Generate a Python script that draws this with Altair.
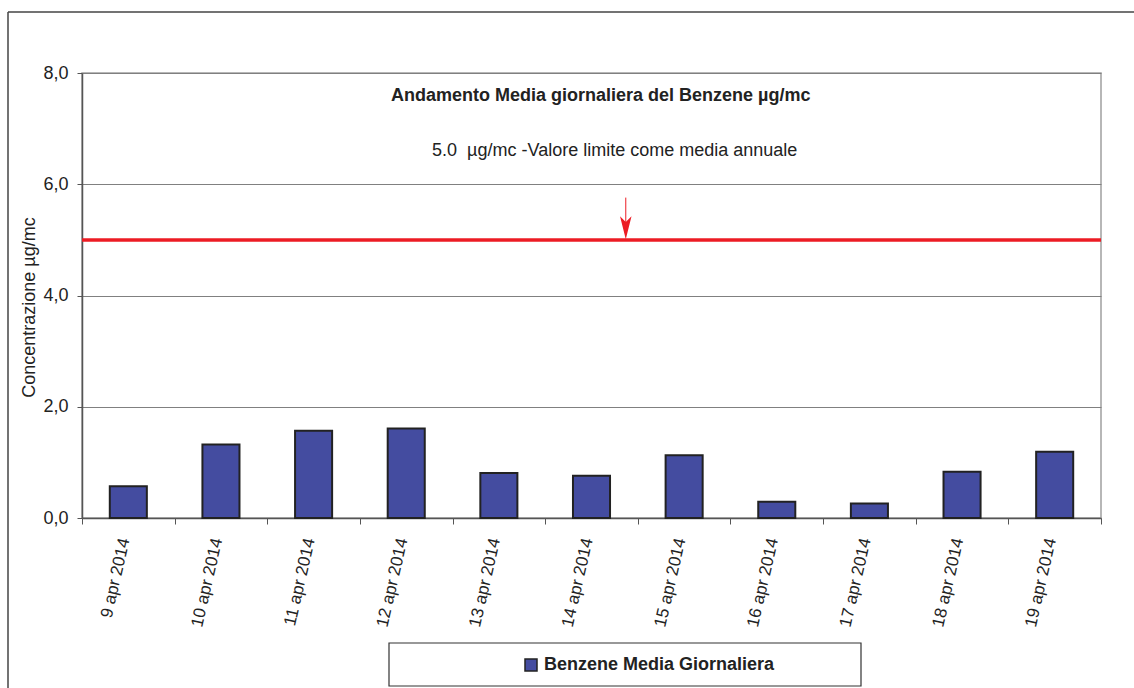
import json

import altair as alt
import pandas as pd

# Daily benzene averages (µg/mc)
days = [
    "9 apr 2014", "10 apr 2014", "11 apr 2014", "12 apr 2014", "13 apr 2014",
    "14 apr 2014", "15 apr 2014", "16 apr 2014", "17 apr 2014", "18 apr 2014",
    "19 apr 2014",
]
benzene = [0.57, 1.32, 1.57, 1.61, 0.81, 0.76, 1.13, 0.29, 0.26, 0.83, 1.19]
series_name = "Benzene Media Giornaliera"

# Annual limit value and y ticks
limit_value = 5.0
y_ticks = [0, 2, 4, 6, 8]

chart_title = "Andamento Media giornaliera del Benzene µg/mc"
limit_label = "5.0 \u00a0µg/mc -Valore limite come media annuale"
y_title = "Concentrazione µg/mc"

FONT = "Liberation Sans"
BAR_COLOR = "#444ca0"
RED = "#ec1c24"
TEXT = "#222222"

n = len(days)
df = pd.DataFrame({"giorno": days, "valore": benzene, "idx": list(range(n)), "serie": series_name})

x_scale = alt.Scale(domain=[0, n], nice=False, zero=False)
y_scale = alt.Scale(domain=[y_ticks[0], y_ticks[-1]], nice=False)

# ticks on category boundaries, labels on category centres
x_values = [i * 0.5 for i in range(2 * n + 1)]
label_array = json.dumps(days)
x_axis = alt.Axis(
    values=x_values,
    labelExpr=f"datum.value % 1 == 0.5 ? {label_array}[floor(datum.value)] : ''",
    grid=False,
    domainColor="#555555",
    domainWidth=1.5,
    tickColor="#555555",
    tickSize=6,
    tickWidth=1,
    tickOpacity={"condition": {"test": "datum.value % 1 == 0", "value": 1}, "value": 0},
    labelAngle=283,
    labelAlign="right",
    labelBaseline="middle",
    labelPadding=14,
    labelOffset=-4,
    labelFontSize=17,
    labelColor=TEXT,
    labelOverlap=False,
    labelFlush=False,
    title=None,
)

y_axis = alt.Axis(
    values=y_ticks,
    labelExpr="replace(format(datum.value, '.1f'), '.', ',')",
    grid=True,
    gridColor="#808080",
    gridWidth=1,
    domainColor="#555555",
    domainWidth=1.5,
    tickColor="#555555",
    tickSize=5,
    labelPadding=9,
    labelFontSize=18,
    labelColor=TEXT,
    title=y_title,
    titleFontSize=18,
    titleFontWeight="normal",
    titleColor=TEXT,
    titleX=-44,
    titleY=234,
)


def xq(field):
    return alt.X(field, scale=x_scale, axis=x_axis, title=None)


def yq(field):
    return alt.Y(field, scale=y_scale, axis=y_axis, title=y_title)


bars = (
    alt.Chart(df)
    .transform_calculate(lo="datum.idx + 0.3", hi="datum.idx + 0.7")
    .mark_bar(stroke="#222222", strokeWidth=2)
    .encode(
        x=xq("lo:Q"),
        x2="hi:Q",
        y=yq("valore:Q"),
        y2=alt.datum(0),
        color=alt.Color(
            "serie:N",
            scale=alt.Scale(range=[BAR_COLOR]),
            legend=alt.Legend(
                orient="none",
                legendX=440,
                legendY=583,
                direction="horizontal",
                title=None,
                symbolType="square",
                symbolSize=144,
                symbolStrokeColor="#222222",
                symbolStrokeWidth=1.5,
                labelFont=FONT,
                labelFontSize=18,
                labelFontWeight="bold",
                labelColor=TEXT,
                labelOffset=4,
                labelLimit=500,
                padding=0,
            ),
        ),
    )
)

limit_df = pd.DataFrame({"x0": [0], "x1": [n], "y": [limit_value]})
limit_line = (
    alt.Chart(limit_df)
    .mark_rule(color=RED, strokeWidth=3.5)
    .encode(x=xq("x0:Q"), x2="x1:Q", y=yq("y:Q"))
)

# arrow pointing at the limit line
arrow_df = pd.DataFrame({"x": [5.87], "top": [5.76], "head": [5.22]})
arrow_shaft = (
    alt.Chart(arrow_df)
    .mark_rule(color=RED, strokeWidth=1)
    .encode(x=xq("x:Q"), y=yq("top:Q"), y2="head:Q")
)
arrow_head = (
    alt.Chart(arrow_df)
    .mark_point(
        shape="M0,1 L-0.5,-1 L0,-0.5 L0.5,-1 Z",
        filled=True,
        size=529,
        color=RED,
        opacity=1,
    )
    .encode(x=xq("x:Q"), y=yq("head:Q"))
)

notes_df = pd.DataFrame(
    {
        "testo": [chart_title, limit_label],
        "x": [5.60, 5.75],
        "y": [7.58, 6.60],
    }
)
title_text = (
    alt.Chart(notes_df.iloc[[0]])
    .mark_text(font=FONT, fontSize=18, fontWeight="bold", color=TEXT, align="center", baseline="middle")
    .encode(x=xq("x:Q"), y=yq("y:Q"), text="testo:N")
)
limit_text = (
    alt.Chart(notes_df.iloc[[1]])
    .mark_text(font=FONT, fontSize=18, fontWeight="normal", color=TEXT, align="center", baseline="middle")
    .encode(x=xq("x:Q"), y=yq("y:Q"), text="testo:N")
)

one = pd.DataFrame({"k": [0]})

# frame around the legend
legend_box = (
    alt.Chart(one)
    .mark_rect(fill="white", stroke="#333333", strokeWidth=1.2)
    .encode(x=alt.value(307), x2=alt.value(779), y=alt.value(570), y2=alt.value(613))
)

# outer chart frame (top and left edges)
frame_top = (
    alt.Chart(one)
    .mark_rule(color="#444444", strokeWidth=1.5)
    .encode(x=alt.value(-74), x2=alt.value(1052), y=alt.value(-61))
)
frame_left = (
    alt.Chart(one)
    .mark_rule(color="#444444", strokeWidth=1.5)
    .encode(x=alt.value(-74), y=alt.value(-61), y2=alt.value(615))
)

chart = (
    alt.layer(
        bars, limit_line, arrow_shaft, arrow_head, title_text, limit_text,
        frame_top, frame_left, legend_box,
    )
    .properties(
        width=1019,
        height=445,
        autosize=alt.AutoSizeParams(type="none"),
        padding={"left": 82, "top": 73, "right": 33, "bottom": 170},
        background="white",
    )
    .configure(font=FONT)
    .configure_view(stroke="#a0a0a0", strokeWidth=1.5)
)

chart.save("out.html", embed_options={"renderer": "svg", "actions": False})
